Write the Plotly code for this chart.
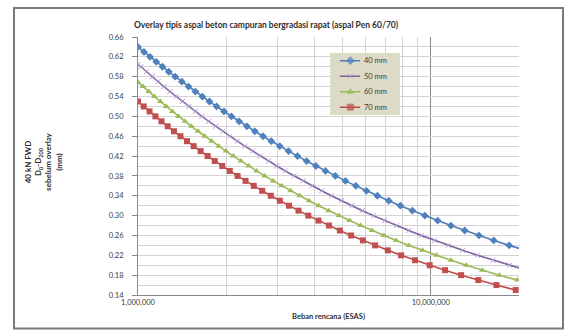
import plotly.graph_objects as go

# Deflection values (mm) and the design load (million ESAS) at which each is reached
d_40 = [0.64, 0.63, 0.62, 0.61, 0.60, 0.59, 0.58, 0.57, 0.56, 0.55, 0.54, 0.53, 0.52, 0.51,
        0.50, 0.49, 0.48, 0.47, 0.46, 0.45, 0.44, 0.43, 0.42, 0.41, 0.40, 0.39, 0.38, 0.37,
        0.36, 0.35, 0.34, 0.33, 0.32, 0.31, 0.30, 0.29, 0.28, 0.27, 0.26, 0.25, 0.24, 0.23]
esas_40 = [1.000, 1.048, 1.099, 1.154, 1.212, 1.274, 1.340, 1.412, 1.488, 1.570, 1.658, 1.753,
           1.855, 1.966, 2.085, 2.214, 2.354, 2.506, 2.672, 2.853, 3.050, 3.266, 3.503, 3.763,
           4.050, 4.367, 4.718, 5.108, 5.542, 6.026, 6.569, 7.180, 7.868, 8.648, 9.535, 10.55,
           11.71, 13.05, 14.60, 16.40, 18.52, 21.02]

d_50 = [0.605, 0.60, 0.59, 0.58, 0.57, 0.56, 0.55, 0.54, 0.53, 0.52, 0.51, 0.50, 0.49, 0.48,
        0.47, 0.46, 0.45, 0.44, 0.43, 0.42, 0.41, 0.40, 0.39, 0.38, 0.37, 0.36, 0.35, 0.34,
        0.33, 0.32, 0.31, 0.30, 0.29, 0.28, 0.27, 0.26, 0.25, 0.24, 0.23, 0.22, 0.21, 0.20, 0.19]
esas_50 = [1.000, 1.022, 1.068, 1.118, 1.170, 1.226, 1.286, 1.350, 1.418, 1.491, 1.569, 1.654,
           1.744, 1.842, 1.947, 2.060, 2.184, 2.317, 2.462, 2.619, 2.791, 2.979, 3.185, 3.411,
           3.660, 3.934, 4.238, 4.575, 4.950, 5.368, 5.837, 6.365, 6.960, 7.636, 8.404, 9.284,
           10.30, 11.47, 12.83, 14.43, 16.31, 18.55, 21.24]

d_60 = [0.569, 0.56, 0.55, 0.54, 0.53, 0.52, 0.51, 0.50, 0.49, 0.48, 0.47, 0.46, 0.45, 0.44,
        0.43, 0.42, 0.41, 0.40, 0.39, 0.38, 0.37, 0.36, 0.35, 0.34, 0.33, 0.32, 0.31, 0.30,
        0.29, 0.28, 0.27, 0.26, 0.25, 0.24, 0.23, 0.22, 0.21, 0.20, 0.19, 0.18, 0.17]
esas_60 = [1.000, 1.040, 1.087, 1.138, 1.192, 1.249, 1.310, 1.376, 1.446, 1.522, 1.603, 1.691,
           1.785, 1.887, 1.997, 2.116, 2.246, 2.387, 2.541, 2.709, 2.894, 3.097, 3.319, 3.566,
           3.838, 4.141, 4.479, 4.857, 5.281, 5.759, 6.300, 6.915, 7.618, 8.426, 9.360, 10.45,
           11.72, 13.22, 15.00, 17.14, 19.74]

d_70 = [0.53, 0.52, 0.51, 0.50, 0.49, 0.48, 0.47, 0.46, 0.45, 0.44, 0.43, 0.42, 0.41, 0.40,
        0.39, 0.38, 0.37, 0.36, 0.35, 0.34, 0.33, 0.32, 0.31, 0.30, 0.29, 0.28, 0.27, 0.26,
        0.25, 0.24, 0.23, 0.22, 0.21, 0.20, 0.19, 0.18, 0.17, 0.16, 0.15]
esas_70 = [1.000, 1.046, 1.095, 1.147, 1.203, 1.263, 1.327, 1.396, 1.470, 1.549, 1.636, 1.729,
           1.829, 1.939, 2.058, 2.188, 2.329, 2.485, 2.655, 2.842, 3.049, 3.278, 3.532, 3.816,
           4.132, 4.488, 4.889, 5.343, 5.860, 6.451, 7.130, 7.916, 8.831, 9.906, 11.18, 12.69,
           14.52, 16.75, 19.49]

series_names = ["40 mm", "50 mm", "60 mm", "70 mm"]
x_tick_vals = [1e6, 1e7]
x_tick_text = ["1,000,000", "10,000,000"]
x_minor_vals = [2e6, 3e6, 4e6, 5e6, 6e6, 7e6, 8e6, 9e6]

FONT = "Lato"
TEXT = "#3a3a3a"

styles = [
    dict(line="#4a7ebb", marker=dict(symbol="diamond", size=6, color="#4f81bd")),
    dict(line="#7d60a0", marker=dict(symbol="x-thin", size=5, color="#b49ad0",
                                     line=dict(width=1, color="#b49ad0"))),
    dict(line="#98b954", marker=dict(symbol="triangle-up", size=6, color="#9bbb59")),
    dict(line="#be4b48", marker=dict(symbol="square", size=6, color="#c0504d")),
]

fig = go.Figure()
for name, xs, ys, st in zip(series_names, [esas_40, esas_50, esas_60, esas_70],
                            [d_40, d_50, d_60, d_70], styles):
    fig.add_trace(go.Scatter(
        x=[v * 1e6 for v in xs], y=ys, name=name, mode="lines+markers",
        line=dict(color=st["line"], width=1.6), marker=st["marker"],
        showlegend=False,
    ))

# Compact key drawn on its own small axes pair (rows 3.5 .. 0.5 from the top)
fig.add_trace(go.Scatter(
    x=[0, 1, 1, 0, 0], y=[0, 0, 4, 4, 0], mode="lines", fill="toself",
    fillcolor="#dddac8", line=dict(width=0, color="#dddac8"),
    xaxis="x2", yaxis="y2", showlegend=False, hoverinfo="skip",
))
legend_annotations = []
for i, (name, st) in enumerate(zip(series_names, styles)):
    row = 3.5 - i
    mk = dict(st["marker"])
    mk["size"] = [0, mk["size"], 0]
    fig.add_trace(go.Scatter(
        x=[0.14, 0.29, 0.43], y=[row, row, row], mode="lines+markers",
        line=dict(color=st["line"], width=1.6), marker=mk,
        xaxis="x2", yaxis="y2", showlegend=False, hoverinfo="skip",
    ))
    legend_annotations.append(dict(
        text=name, xref="x2", yref="y2", x=0.46, y=row, xanchor="left", yanchor="middle",
        showarrow=False, font=dict(family=FONT, size=7.5, color=TEXT)))

fig.update_layout(
    width=574, height=330,
    margin=dict(l=138, r=55, t=37, b=35),
    paper_bgcolor="white", plot_bgcolor="white",
    font=dict(family=FONT, size=7, color=TEXT),
    showlegend=False,
    xaxis=dict(
        type="log", range=[6, 7.301], domain=[0, 1], anchor="y",
        tickvals=x_tick_vals, ticktext=x_tick_text,
        showgrid=True, gridcolor="#8a8a8a", gridwidth=1,
        minor=dict(tickvals=x_minor_vals, showgrid=True, gridcolor="#d4d4d4", ticks=""),
        showline=True, linecolor="#8a8a8a", linewidth=1,
        ticks="", tickfont=dict(family=FONT, size=7.5, color=TEXT),
        zeroline=False,
    ),
    yaxis=dict(
        range=[0.14, 0.66], tick0=0.14, dtick=0.04, tickformat=".2f", domain=[0, 1],
        anchor="x",
        showgrid=True, gridcolor="#d4d4d4", gridwidth=1,
        minor=dict(dtick=0.02, tick0=0.14, showgrid=True, gridcolor="#d4d4d4"),
        showline=True, linecolor="#8a8a8a", linewidth=1,
        ticks="outside", ticklen=5, tickcolor="#8a8a8a",
        ticklabelstandoff=7, tickfont=dict(family=FONT, size=7.5, color=TEXT),
        zeroline=False,
    ),
    xaxis2=dict(domain=[0.504, 0.688], range=[0, 1], anchor="y2", visible=False,
                fixedrange=True),
    yaxis2=dict(domain=[0.698, 0.938], range=[0, 4], anchor="x2", visible=False,
                fixedrange=True),
    annotations=[
        dict(text="<b>Overlay tipis aspal beton campuran bergradasi rapat (aspal Pen 60/70)</b>",
             xref="paper", yref="paper", x=0.336, y=1.045, xanchor="center", yanchor="middle",
             showarrow=False, font=dict(family=FONT, size=8.5, color="#2e2e2e")),
        dict(text="<b>Beban rencana (ESAS)</b>",
             xref="paper", yref="paper", x=0.5, y=-0.085, xanchor="center", yanchor="middle",
             showarrow=False, font=dict(family=FONT, size=7.5, color="#2e2e2e")),
        dict(text="<b>40 kN FWD<br>D<sub>0</sub>-D<sub>200</sub><br>sebelum overlay<br>(mm)</b>",
             xref="paper", yref="paper", x=-0.25, y=0.515, xanchor="center", yanchor="middle",
             textangle=-90, showarrow=False,
             font=dict(family=FONT, size=8, color="#2e2e2e")),
    ] + legend_annotations,
    shapes=[
        dict(type="rect", xref="paper", yref="paper", x0=-0.3255, x1=1.1155, y0=-0.13, y1=1.112,
             line=dict(color="#7a7a7a", width=2), fillcolor="rgba(0,0,0,0)", layer="below"),
    ],
)

fig.write_html("out.html")
